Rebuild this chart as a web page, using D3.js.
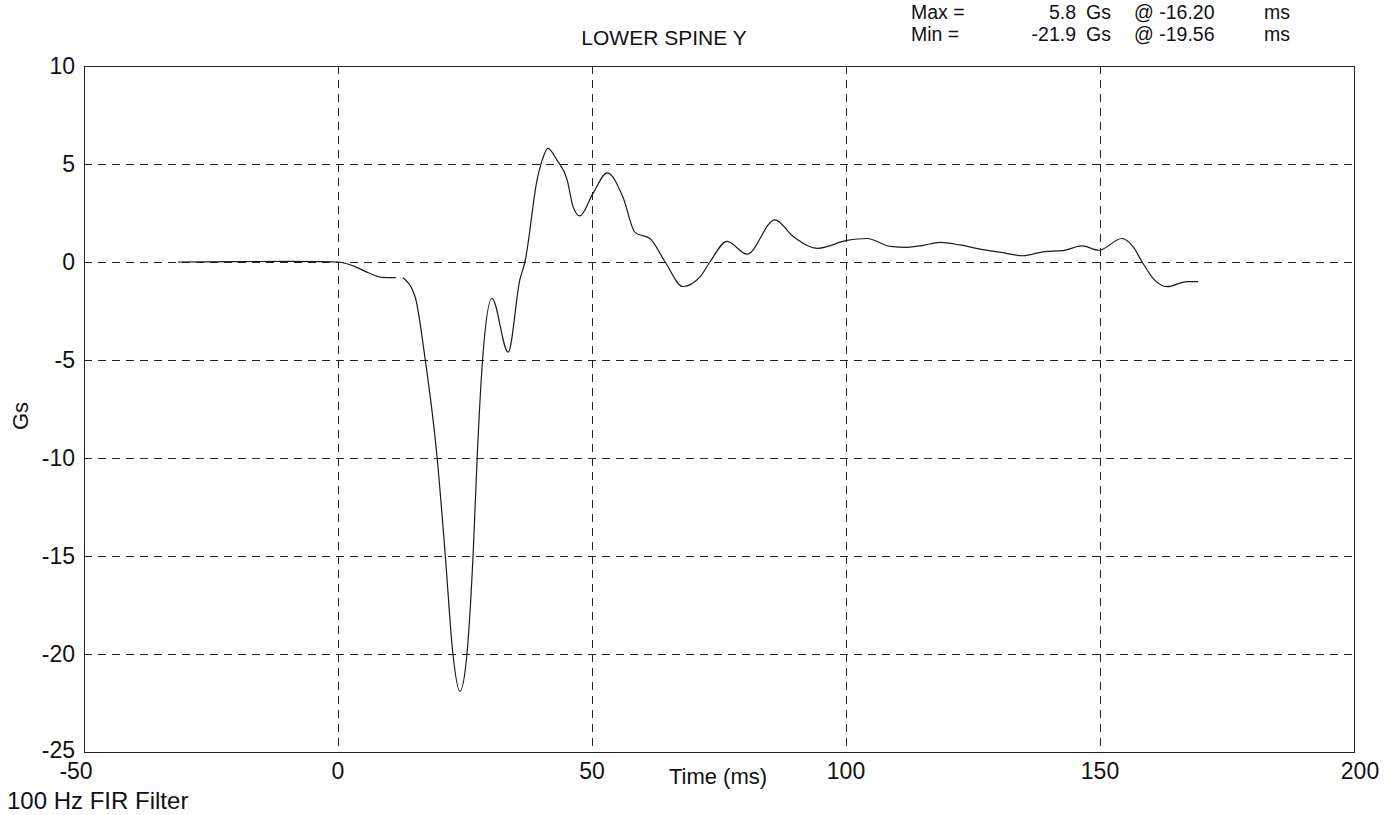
<!DOCTYPE html>
<html>
<head>
<meta charset="utf-8">
<script src="https://cdn.jsdelivr.net/npm/d3@7"></script>
<style>
  html, body { margin: 0; padding: 0; background: #fff; }
  svg text { font-family: "Liberation Sans", Arial, sans-serif; fill: #111; }
</style>
</head>
<body>
<svg id="chart" width="1394" height="815"></svg>
<script>
// ---- data ----
const title = "LOWER SPINE Y";
const xLabel = "Time (ms)";
const yLabel = "Gs";
const footNote = "100 Hz FIR Filter";
const xTicks = [-50, 0, 50, 100, 150, 200];
const yTicks = [10, 5, 0, -5, -10, -15, -20, -25];
const statNames = ["Max =", "Min ="];
const statValues = ["5.8", "-21.9"];
const statUnits = ["Gs", "Gs"];
const statTimes = ["@ -16.20", "@ -19.56"];
const statTimeUnits = ["ms", "ms"];

const timeMs = [-31.5, -20, -10, -4, 0, 3, 6, 8.5, 11.4, 12.1, 12.8, 15.2, 17.1, 19.5, 21.1, 22.6, 24.0, 25.4, 26.6, 27.4, 28.5,
  30.3, 33.5, 35.8, 36.8, 39.2, 40.2, 41.3, 43.1, 45.1, 46.3, 47.6, 50.2, 53.0, 56.1, 58.5, 61.4, 64.4, 67.9, 71.3, 73.2,
  76.6, 80.5, 86.0, 89.6, 94.5, 100.2, 104.1, 108.7, 112.0, 115.2, 118.5, 122.4, 126.4, 130.3, 134.8, 138.8, 142.7, 146.5,
  149.8, 154.3, 156.5, 158.3, 160.4, 163.2, 167.1, 169.3];
const accelG = [0, 0.02, 0.03, 0.02, 0, -0.2, -0.55, -0.78, -0.8, null, -0.8, -1.8, -4.85, -9.95, -14.9, -19.95, -21.9, -19.95, -14.9, -9.95, -4.85,
  -1.85, -4.6, -0.9, 0, 4.2, 5.2, 5.8, 5.2, 4.2, 2.8, 2.35, 3.5, 4.55, 3.3, 1.5, 1.2, 0, -1.25, -0.75, 0,
  1.05, 0.4, 2.15, 1.3, 0.7, 1.1, 1.2, 0.8, 0.75, 0.85, 1.0, 0.87, 0.66, 0.5, 0.32, 0.52, 0.58, 0.82,
  0.6, 1.2, 0.78, 0, -0.82, -1.26, -1.0, -1.0];

// ---- layout ----
const svg = d3.select("#chart");
const L = 84, R = 1354, T = 66, B = 752;
const x = d3.scaleLinear().domain([-50, 200]).range([L, R]);
const y = d3.scaleLinear().domain([-25, 10]).range([B, T]);
const crisp = v => Math.round(v) + 0.5;

// grid
const gridColor = "#222";
svg.append("g").selectAll("line").data(xTicks.filter(d => d > -50 && d < 200)).join("line")
  .attr("x1", d => crisp(x(d))).attr("x2", d => crisp(x(d))).attr("y1", T).attr("y2", B)
  .attr("stroke", gridColor).attr("stroke-width", 1).attr("stroke-dasharray", "8,6");
svg.append("g").selectAll("line").data(yTicks.filter(d => d > -25 && d < 10)).join("line")
  .attr("x1", L).attr("x2", R).attr("y1", d => crisp(y(d))).attr("y2", d => crisp(y(d)))
  .attr("stroke", gridColor).attr("stroke-width", 1).attr("stroke-dasharray", "8,6");

// frame
svg.append("rect").attr("x", L + 0.5).attr("y", T + 0.5).attr("width", R - L).attr("height", B - T)
  .attr("fill", "none").attr("stroke", "#222").attr("stroke-width", 1);

// tick labels
svg.append("g").selectAll("text").data(yTicks).join("text")
  .attr("x", L - 9).attr("y", d => y(d) + (d === -25 ? -2 : 0)).attr("dy", "0.35em")
  .attr("text-anchor", "end").attr("font-size", 23).text(d => d);
svg.append("g").selectAll("text").data(xTicks).join("text")
  .attr("x", d => x(d) + (d === -50 ? -8 : (d === 200 ? 6 : 0))).attr("y", B + 19).attr("dy", "0.35em")
  .attr("text-anchor", "middle").attr("font-size", 23).text(d => d);

// axis titles
svg.append("text").attr("x", 718).attr("y", 776).attr("dy", "0.35em").attr("text-anchor", "middle")
  .attr("font-size", 22).text(xLabel);
svg.append("text").attr("transform", "translate(20,416) rotate(-90)").attr("dy", "0.35em")
  .attr("text-anchor", "middle").attr("font-size", 22).text(yLabel);
svg.append("text").attr("x", 7).attr("y", 801).attr("dy", "0.35em").attr("font-size", 24).text(footNote);
svg.append("text").attr("x", 664).attr("y", 38).attr("dy", "0.35em").attr("text-anchor", "middle")
  .attr("font-size", 21).text(title);

// stats block
const sg = svg.append("g");
statNames.forEach((n, i) => {
  const yy = 12 + i * 22;
  sg.append("text").attr("x", 911).attr("y", yy).attr("dy", "0.35em").attr("font-size", 19.5).text(n);
  sg.append("text").attr("x", 1076).attr("y", yy).attr("dy", "0.35em").attr("text-anchor", "end").attr("font-size", 19.5).text(statValues[i]);
  sg.append("text").attr("x", 1086).attr("y", yy).attr("dy", "0.35em").attr("font-size", 19.5).text(statUnits[i]);
  sg.append("text").attr("x", 1134).attr("y", yy).attr("dy", "0.35em").attr("font-size", 19.5).text(statTimes[i]);
  sg.append("text").attr("x", 1264).attr("y", yy).attr("dy", "0.35em").attr("font-size", 19.5).text(statTimeUnits[i]);
});

// curve
const pts = timeMs.map((t, i) => ({ t, v: accelG[i] }));
const line = d3.line().defined(d => d.v !== null)
  .x(d => x(d.t)).y(d => y(d.v)).curve(d3.curveMonotoneX);
svg.append("path").datum(pts).attr("d", line)
  .attr("fill", "none").attr("stroke", "#1a1a1a").attr("stroke-width", 1.2);
</script>
</body>
</html>
